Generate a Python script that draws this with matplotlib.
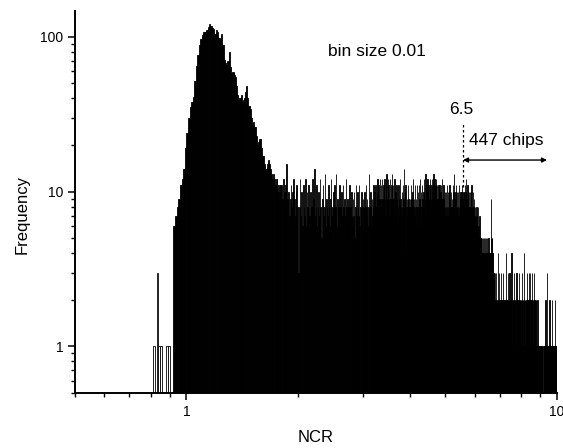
import numpy as np
import matplotlib
matplotlib.use("Agg")
import matplotlib.pyplot as plt
from matplotlib.ticker import FixedLocator, NullFormatter, FixedFormatter

plt.rcParams["font.family"] = ["Liberation Sans", "DejaVu Sans"]

# histogram of NCR, bin size 0.01, first bin starts at 0.80
ncr_start = 0.80
bin_size = 0.01

counts_onset = [0, 1, 0, 3, 1, 1, 0, 0, 1, 1, 0, 0]  # 0.80 - 0.91

counts_peak = [  # 0.92 - 1.79
    6, 7, 8, 9, 11, 12, 14, 19,
    24, 30, 35, 38, 41, 52, 65, 76, 88, 97,
    103, 107, 108, 110, 116, 121, 118, 114, 112, 104,
    110, 108, 98, 96, 105, 88, 71, 68, 66, 70,
    80, 64, 58, 59, 57, 55, 48, 42, 39, 40,
    42, 38, 39, 40, 44, 48, 40, 36, 34, 30,
    27, 28, 26, 26, 23, 20, 21, 22, 22, 19,
    17, 17, 15, 14, 14, 15, 16, 15, 14, 13,
    12, 13, 12, 11, 12, 12, 11, 10, 11, 11,
]

counts_plateau = [  # 1.80 - 5.99
    11, 9, 12, 10, 8, 11, 15, 9, 10, 7, 9, 11, 8, 10, 12, 9, 7, 10, 11, 8,
    3, 8, 12, 7, 10, 6, 11, 8, 7, 12, 6, 10, 8, 11, 7, 5, 10, 8, 12, 7,
    9, 14, 7, 8, 11, 6, 8, 10, 7, 12, 8, 5, 9, 11, 7, 8, 13, 6, 9, 8,
    7, 11, 8, 6, 9, 12, 7, 8, 5, 10, 11, 7, 8, 13, 6, 9, 7, 8, 11, 7,
    8, 6, 10, 7, 11, 8, 5, 9, 7, 12, 8, 6, 9, 8, 7, 11, 6, 8, 10, 7,
    6, 9, 7, 10, 5, 8, 11, 7, 6, 10, 8, 7, 11, 6, 8, 7, 10, 8, 6, 9,
    8, 7, 10, 6, 8, 11, 7, 9, 8, 6, 13, 8, 7, 10, 8, 6, 9, 7, 8, 11,
    7, 10, 8, 11, 7, 8, 10, 12, 8, 11, 7, 9, 12, 8, 11, 9, 7, 12, 9, 8,
    11, 8, 12, 9, 7, 11, 13, 8, 9, 12, 8, 11, 9, 7, 12, 9, 8, 11, 13, 9,
    8, 11, 7, 9, 12, 8, 10, 7, 11, 8, 9, 6, 8, 11, 9, 7, 8, 12, 9, 8,
    7, 10, 8, 11, 6, 9, 14, 8, 7, 10, 11, 8, 4, 9, 7, 8, 11, 9, 7, 8,
    9, 7, 8, 11, 9, 6, 8, 10, 7, 12, 8, 9, 7, 11, 8, 6, 9, 8, 11, 7,
    8, 10, 7, 11, 8, 9, 12, 7, 8, 10, 6, 8, 11, 9, 7, 8, 10, 12, 8, 7,
    9, 13, 8, 7, 11, 9, 8, 12, 9, 7, 11, 8, 9, 12, 8, 11, 9, 7, 8, 11,
    12, 9, 11, 8, 13, 9, 11, 12, 8, 10, 11, 8, 12, 9, 7, 11, 9, 8, 11, 9,
    8, 11, 9, 7, 10, 8, 11, 7, 9, 8, 12, 9, 7, 8, 11, 9, 8, 7, 10, 8,
    4, 8, 10, 7, 11, 8, 7, 10, 8, 6, 10, 7, 11, 8, 9, 7, 8, 10, 6, 8,
    9, 7, 8, 11, 7, 10, 8, 13, 7, 9, 8, 6, 10, 7, 11, 8, 7, 10, 8, 7,
    8, 10, 7, 8, 11, 7, 9, 8, 6, 10, 7, 8, 10, 7, 11, 8, 9, 7, 8, 10,
    7, 10, 8, 11, 7, 8, 10, 7, 12, 8, 9, 7, 8, 11, 7, 10, 8, 7, 10, 8,
    8, 7, 10, 8, 6, 10, 7, 8, 11, 7, 6, 8, 7, 10, 6, 8, 7, 6, 9, 7,
]

counts_shoulder = [  # 6.00 - 6.79
    7, 8, 5, 6, 7, 5, 8, 6, 5, 7, 6, 4, 5, 8, 5, 6, 4, 5, 7, 5,
    4, 5, 3, 4, 5, 4, 3, 5, 4, 4, 3, 5, 4, 3, 4, 5, 4, 3, 4, 5,
    4, 3, 5, 4, 3, 4, 3, 5, 4, 3, 4, 3, 4, 5, 3, 4, 3, 4, 3, 4,
    3, 4, 5, 9, 4, 3, 5, 4, 3, 5, 4, 3, 2, 4, 3, 2, 3, 2, 2, 3,
]

counts_tail = [  # 6.80 - 9.99
    2, 1, 2, 1, 3, 2, 1, 2, 2, 1, 2, 1, 4, 2, 1, 2, 1, 2, 3, 1,
    1, 2, 1, 2, 2, 1, 2, 3, 1, 2, 1, 2, 2, 1, 2, 1, 3, 2, 1, 2,
    2, 1, 2, 1, 1, 2, 2, 4, 1, 1, 2, 1, 2, 2, 1, 1, 2, 3, 1, 2,
    1, 2, 1, 2, 3, 1, 1, 2, 1, 2, 2, 1, 1, 2, 4, 1, 2, 1, 1, 2,
    2, 1, 2, 1, 2, 3, 1, 2, 1, 2, 1, 2, 2, 1, 2, 1, 1, 3, 2, 1,
    2, 1, 1, 2, 1, 2, 1, 2, 3, 1, 2, 1, 1, 2, 2, 1, 2, 1, 2, 1,
    1, 2, 1, 2, 1, 3, 2, 1, 1, 2, 1, 2, 1, 2, 2, 1, 4, 1, 2, 1,
    2, 1, 1, 2, 1, 2, 2, 1, 3, 1, 2, 1, 2, 1, 2, 1, 1, 2, 1, 3,
    1, 2, 1, 2, 1, 2, 1, 3, 2, 1, 1, 2, 1, 2, 1, 2, 3, 1, 2, 1,
    2, 1, 1, 2, 1, 1, 3, 2, 1, 2, 1, 2, 1, 1, 2, 1, 2, 1, 1, 2,
    1, 1, 0, 1, 1, 1, 2, 1, 0, 1, 1, 1, 0, 1, 1, 1, 1, 0, 1, 1,
    1, 0, 1, 1, 1, 1, 0, 1, 1, 1, 1, 0, 1, 0, 0, 0, 0, 0, 0, 1,
    1, 1, 0, 1, 0, 1, 1, 1, 0, 1, 1, 2, 1, 1, 0, 1, 1, 1, 1, 1,
    1, 3, 1, 0, 1, 1, 1, 1, 1, 1, 0, 1, 1, 1, 2, 1, 1, 0, 1, 1,
    1, 1, 1, 1, 1, 0, 1, 1, 1, 2, 1, 1, 1, 0, 1, 1, 1, 1, 1, 0,
    1, 1, 1, 1, 1, 0, 1, 2, 1, 1, 1, 1, 1, 1, 0, 1, 1, 1, 1, 1,
]

counts = np.array(counts_onset + counts_peak + counts_plateau + counts_shoulder + counts_tail)
left_edges = ncr_start + bin_size * np.arange(len(counts))

# annotation values
cut_label = "6.5"
cut_x = 5.58
arrow_end_x = 9.4
chips_label = "447 chips"

fig = plt.figure(figsize=(5.63, 4.48), dpi=100)
ax = fig.add_axes([0.1332, 0.1228, 0.856, 0.8527])

# wide isolated bars look hollow, dense bars merge into black
faces = np.where(left_edges < 0.915, "white", "black")
ax.bar(left_edges, counts, width=bin_size, align="edge",
       color=faces, edgecolor="black", linewidth=0.6)

ax.set_xscale("log")
ax.set_yscale("log")
ax.set_xlim(0.5, 10)
ax.set_ylim(0.5, 147)

ax.spines["top"].set_visible(False)
ax.spines["right"].set_visible(False)
for s in ("left", "bottom"):
    ax.spines[s].set_linewidth(1.4)

ax.xaxis.set_major_locator(FixedLocator([1, 10]))
ax.xaxis.set_major_formatter(FixedFormatter(["1", "10"]))
ax.xaxis.set_minor_locator(FixedLocator([0.5, 0.6, 0.7, 0.8, 0.9, 2, 3, 4, 5, 6, 7, 8, 9]))
ax.xaxis.set_minor_formatter(NullFormatter())
ax.yaxis.set_major_locator(FixedLocator([1, 10, 100]))
ax.yaxis.set_major_formatter(FixedFormatter(["1", "10", "100"]))
ax.yaxis.set_minor_locator(FixedLocator([0.5, 0.6, 0.7, 0.8, 0.9, 2, 3, 4, 5, 6, 7, 8, 9,
                                         20, 30, 40, 50, 60, 70, 80, 90]))
ax.yaxis.set_minor_formatter(NullFormatter())
ax.tick_params(which="major", direction="out", length=5, width=1.1, labelsize=10, pad=3.5)
ax.tick_params(which="minor", direction="out", length=2.8, width=1.0)

ax.set_xlabel("NCR", fontsize=12)
ax.set_ylabel("Frequency", fontsize=12)
ax.xaxis.set_label_coords(0.5, -0.097)
ax.yaxis.set_label_coords(-0.095, 0.467)

ax.text(2.41, 81, "bin size 0.01", fontsize=12.5, ha="left", va="center")
ax.text(5.51, 34, cut_label, fontsize=12.5, ha="center", va="center")
ax.plot([cut_x, cut_x], [10.7, 28.2], color="black", linestyle=(0, (2, 2)), linewidth=0.9)
ax.text(5.79, 21.3, chips_label, fontsize=12.5, ha="left", va="center")
ax.annotate("", xy=(arrow_end_x, 16), xytext=(cut_x, 16),
            arrowprops=dict(arrowstyle="<|-|>", color="black", lw=1.0,
                            mutation_scale=7, shrinkA=0, shrinkB=0))

fig.savefig("out.png", dpi=100)
